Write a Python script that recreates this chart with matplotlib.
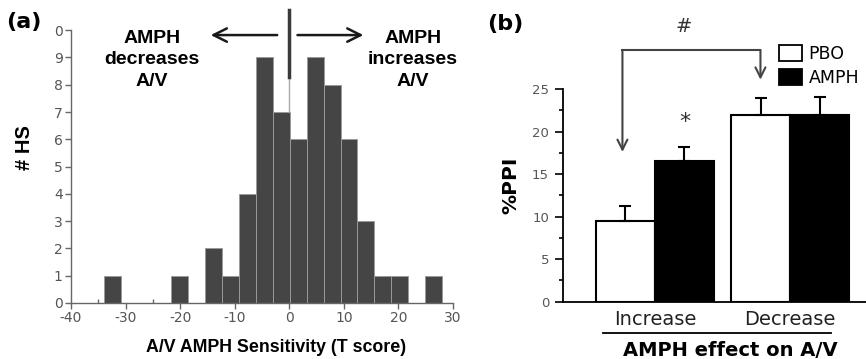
import numpy as np
import matplotlib
matplotlib.use("Agg")
import matplotlib.pyplot as plt
import matplotlib.transforms as mtransforms
from matplotlib.patches import Patch
from matplotlib.ticker import MultipleLocator

# (a) histogram of T scores
bin_edges = [-34.0, -30.9, -27.8, -24.7, -21.6, -18.5, -15.4, -12.3, -9.2, -6.1, -3.0,
             0.1, 3.2, 6.3, 9.4, 12.5, 15.6, 18.7, 21.8, 24.9, 28.0]
bin_counts = [1, 0, 0, 0, 1, 0, 2, 1, 4, 9, 7, 6, 9, 8, 6, 3, 1, 1, 0, 1]
x_ticks_a = [-40, -30, -20, -10, 0, 10, 20, 30]
y_ticks_a = list(range(11))
y_ticklabels_a = ['0', '1', '2', '3', '4', '5', '6', '7', '8', '9', '0']

# (b) %PPI by group
groups = ['Increase', 'Decrease']
pbo_mean = [9.5, 22.0]
pbo_err = [1.7, 1.9]
amph_mean = [16.5, 22.0]
amph_err = [1.7, 2.1]

fig = plt.figure(figsize=(8.66, 3.59), dpi=100)
tick_grey = '#555555'

# ---------- panel (a)
axa = fig.add_axes([0.082, 0.156, 0.441, 0.760])
edges = np.array(bin_edges)
axa.bar(edges[:-1], bin_counts, width=np.diff(edges), align='edge',
        color='#454545', edgecolor='#9a9a9a', linewidth=0.7, zorder=2)
axa.set_xlim(-40, 30)
axa.set_ylim(0, 10)
axa.set_xticks(x_ticks_a)
axa.set_xticklabels([str(t) for t in x_ticks_a])
axa.xaxis.set_minor_locator(MultipleLocator(5))
axa.set_yticks(y_ticks_a)
axa.set_yticklabels(y_ticklabels_a)
for s in ['top', 'right']:
    axa.spines[s].set_visible(False)
for s in ['left', 'bottom']:
    axa.spines[s].set_color('#666666')
    axa.spines[s].set_linewidth(1.0)
axa.tick_params(axis='both', which='major', direction='out', length=4, width=1,
                color='#666666', labelcolor=tick_grey, labelsize=10, pad=2)
axa.tick_params(axis='x', which='minor', direction='in', length=3, width=1, color='#666666')
axa.tick_params(axis='y', which='minor', left=False)

# zero line and direction arrows
axa.plot([0, 0], [7, 8.3], color='#aaaaaa', lw=1, clip_on=False, zorder=3)
axa.plot([0, 0], [8.3, 10.75], color='#3a3a3a', lw=2.5, clip_on=False, zorder=3)
axa.annotate('', xy=(-14.9, 9.82), xytext=(-1.7, 9.82), annotation_clip=False,
             arrowprops=dict(arrowstyle='->', lw=1.8, color='#1a1a1a', mutation_scale=24))
axa.annotate('', xy=(14.1, 9.82), xytext=(1.0, 9.82), annotation_clip=False,
             arrowprops=dict(arrowstyle='->', lw=1.8, color='#1a1a1a', mutation_scale=24))
axa.text(-25.2, 8.92, 'AMPH\ndecreases\nA/V', ha='center', va='center', fontsize=14,
         fontweight='bold', family='Liberation Sans', linespacing=1.35)
axa.text(22.7, 8.92, 'AMPH\nincreases\nA/V', ha='center', va='center', fontsize=14,
         fontweight='bold', family='Liberation Sans', linespacing=1.35)
fig.text(276 / 866, 1 - 348 / 359, 'A/V AMPH Sensitivity (T score)', ha='center', va='center',
         fontsize=12.8, fontweight='bold', family='Liberation Sans')
fig.text(25 / 866, 1 - 148 / 359, '# HS', ha='center', va='center', rotation=90,
         fontsize=14.5, fontweight='bold', family='Liberation Sans')
fig.text(6 / 866, 1 - 22 / 359, '(a)', ha='left', va='center', fontsize=16,
         fontweight='bold')

# ---------- panel (b)
axb = fig.add_axes([0.650, 0.160, 0.350, 0.592])
x = np.arange(len(groups))
w = 0.437
axb.bar(x - w / 2, pbo_mean, width=w, color='white', edgecolor='black', linewidth=1.5,
        yerr=[[0] * len(groups), pbo_err], capsize=4.5,
        error_kw=dict(elinewidth=1.5, capthick=1.5, ecolor='black'), zorder=2)
axb.bar(x + w / 2, amph_mean, width=w, color='black', edgecolor='black', linewidth=1.5,
        yerr=[[0] * len(groups), amph_err], capsize=4.5,
        error_kw=dict(elinewidth=1.5, capthick=1.5, ecolor='black'), zorder=2)
axb.set_xlim(-0.68, 1.56)
axb.set_ylim(0, 25)
axb.set_yticks([0, 5, 10, 15, 20, 25])
axb.yaxis.set_minor_locator(MultipleLocator(2.5))
axb.set_xticks(x)
axb.set_xticklabels(groups, fontsize=14, color='#222222')
shift = mtransforms.ScaledTranslation(-10 / 100, 0, fig.dpi_scale_trans)
for lab in axb.get_xticklabels():
    lab.set_transform(lab.get_transform() + shift)
for s in ['top', 'right']:
    axb.spines[s].set_visible(False)
for s in ['left', 'bottom']:
    axb.spines[s].set_linewidth(1.3)
axb.tick_params(axis='y', which='major', direction='out', length=6, width=1.2,
                labelcolor=tick_grey, labelsize=9.5, pad=4)
axb.tick_params(axis='y', which='minor', direction='out', length=3, width=1.2)
axb.tick_params(axis='x', which='major', length=0, pad=6)
fig.text(511 / 866, 1 - 185 / 359, '%PPI', ha='center', va='center', rotation=90,
         fontsize=14.5, fontweight='bold')

# significance marks
axb.text(0.22, 21.1, '*', ha='center', va='center', fontsize=16, color='#333333')
axb.text(0.21, 32.3, '#', ha='center', va='center', fontsize=14, color='#333333')
bx_left, bx_right, b_top = -0.24, 0.78, 29.6
axb.plot([bx_left, bx_right], [b_top, b_top], color='#444444', lw=1.5, clip_on=False,
         solid_capstyle='projecting')
axb.annotate('', xy=(bx_left, 17.6), xytext=(bx_left, b_top), annotation_clip=False,
             arrowprops=dict(arrowstyle='->', lw=1.5, color='#444444', mutation_scale=18,
                             shrinkA=0, shrinkB=0))
axb.annotate('', xy=(bx_right, 26.1), xytext=(bx_right, b_top), annotation_clip=False,
             arrowprops=dict(arrowstyle='->', lw=1.5, color='#444444', mutation_scale=18,
                             shrinkA=0, shrinkB=0))

# group underline and axis title
axb.plot([-0.38, 1.30], [-3.7, -3.7], color='black', lw=1.3, clip_on=False)
fig.text(730 / 866, 1 - 350 / 359, 'AMPH effect on A/V', ha='center', va='center',
         fontsize=14, fontweight='bold')
fig.text(487 / 866, 1 - 24 / 359, '(b)', ha='left', va='center', fontsize=16,
         fontweight='bold')

handles = [Patch(facecolor='white', edgecolor='black', linewidth=1.3, label='PBO'),
           Patch(facecolor='black', edgecolor='black', linewidth=1.3, label='AMPH')]
fig.legend(handles=handles, loc='upper left', bbox_to_anchor=(779 / 866, 1 - 45 / 359),
           frameon=False, fontsize=12.5, handlelength=1.3, handleheight=1.0,
           handletextpad=0.4, labelspacing=0.35, borderpad=0, borderaxespad=0)

fig.savefig('out.png', dpi=100)
